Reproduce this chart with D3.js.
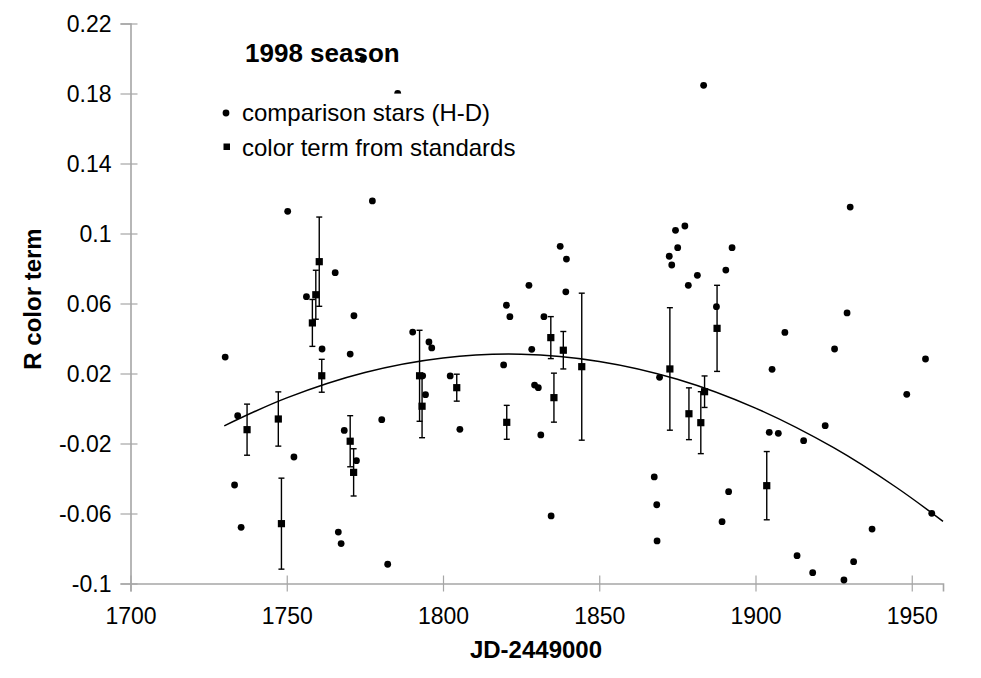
<!DOCTYPE html>
<html>
<head>
<meta charset="utf-8">
<script src="https://cdn.jsdelivr.net/npm/d3@7"></script>
<style>
  body { margin: 0; background: #fff; }
  text { font-family: "Liberation Sans", Arial, Helvetica, sans-serif; fill: #000; }
</style>
</head>
<body>
<div id="container"></div>
<script>
const width = 981;
const height = 678;

// comparison stars (H-D)
const starJD = [1750.3, 1777.4, 1765.5, 1756.3, 1771.5, 1761.3, 1770.3, 1730.3, 1734.3, 1752.3,
    1733.3, 1735.4, 1768.4, 1772.3, 1780.4, 1766.5, 1767.4, 1782.3, 1790.3, 1795.5,
    1796.4, 1819.4, 1820.3, 1821.4, 1827.5, 1828.4, 1832.3, 1837.5, 1839.5, 1839.3,
    1874.4, 1875.1, 1872.4, 1873.2, 1793.5, 1794.4, 1802.3, 1805.4, 1829.3, 1830.5,
    1831.3, 1834.6, 1869.3, 1867.6, 1868.4, 1868.5, 1883.4, 1930.3, 1929.3, 1877.4,
    1878.5, 1881.4, 1892.5, 1890.5, 1887.5, 1909.4, 1925.3, 1954.4, 1905.3, 1948.4,
    1904.4, 1907.3, 1915.4, 1922.3, 1891.4, 1889.3, 1956.4, 1937.3, 1913.3, 1931.4,
    1918.3, 1928.3, 1774.3, 1785.5];
const starTerm = [0.1127, 0.1186, 0.0776, 0.0639, 0.053, 0.034, 0.0311, 0.0294, -0.0041, -0.0277,
    -0.0437, -0.0679, -0.0125, -0.0298, -0.0064, -0.0706, -0.0772, -0.089, 0.0437, 0.038,
    0.0346, 0.0249, 0.059, 0.0525, 0.0704, 0.0338, 0.0525, 0.0927, 0.0854, 0.0667,
    0.1018, 0.0919, 0.087, 0.082, 0.0187, 0.0079, 0.0186, -0.0119, 0.0134, 0.0119,
    -0.0151, -0.0614, 0.0178, -0.0391, -0.055, -0.0757, 0.1847, 0.1151, 0.0546, 0.1043,
    0.0704, 0.0761, 0.0919, 0.0791, 0.0582, 0.0435, 0.034, 0.0283, 0.0224, 0.0081,
    -0.0136, -0.0142, -0.0184, -0.0098, -0.0475, -0.0647, -0.0599, -0.0689, -0.0841, -0.0875,
    -0.0938, -0.098, 0.1995, 0.1801];

// color term from standards, with errors
const stdJD = [1737.3, 1747.3, 1748.3, 1758.2, 1759.3, 1760.4, 1761.2, 1770.3, 1771.4, 1792.5,
    1793.3, 1804.4, 1820.4, 1834.5, 1835.5, 1838.5, 1844.4, 1872.6, 1878.7, 1882.5,
    1883.7, 1887.7, 1903.6];
const stdTerm = [-0.0121, -0.006, -0.0658, 0.0489, 0.065, 0.0839, 0.0187, -0.0187, -0.0365, 0.0187,
    0.0013, 0.0119, -0.0079, 0.0405, 0.0062, 0.0333, 0.0239, 0.0226, -0.003, -0.0081,
    0.0096, 0.0458, -0.0441];
const stdErr = [0.0146, 0.0155, 0.026, 0.0134, 0.014, 0.0255, 0.0094, 0.0146, 0.0135, 0.026,
    0.018, 0.0077, 0.0097, 0.012, 0.014, 0.0107, 0.042, 0.035, 0.0148, 0.0177,
    0.009, 0.0246, 0.0195];

// fitted trend
const fitJD = [1730, 1750, 1775, 1800, 1825, 1850, 1875, 1900, 1925, 1945, 1960];
const fitTerm = [-0.0099, 0.0061, 0.0206, 0.0289, 0.031, 0.0269, 0.0167, 0.0002, -0.0224, -0.045, -0.0645];

const xTicks = [1700, 1750, 1800, 1850, 1900, 1950];
const yTicks = [-0.1, -0.06, -0.02, 0.02, 0.06, 0.1, 0.14, 0.18, 0.22];
const yTickLabels = ["-0.1", "-0.06", "-0.02", "0.02", "0.06", "0.1", "0.14", "0.18", "0.22"];
const legendLabels = ["comparison stars (H-D)", "color term from standards"];

const x = d3.scaleLinear().domain([1700, 1960]).range([130.5, 943]);
const y = d3.scaleLinear().domain([-0.1, 0.22]).range([583.5, 23.5]);

const svg = d3.select("#container")
    .append("svg")
    .attr("width", width)
    .attr("height", height);

// axes
const xAxis = svg.append("g")
    .attr("transform", `translate(0,${y(-0.1)})`)
    .call(d3.axisBottom(x).tickValues(xTicks).tickFormat(d3.format("d"))
        .tickSizeOuter(0).tickSize(8).tickPadding(16));
const yAxis = svg.append("g")
    .attr("transform", `translate(${x(1700)},0)`)
    .call(d3.axisLeft(y).tickValues(yTicks).tickFormat((d, i) => yTickLabels[i])
        .tickSizeOuter(0).tickSize(10).tickPadding(9));
[xAxis, yAxis].forEach((g) => {
    g.select(".domain").attr("stroke", "#a6a6a6").attr("stroke-width", 1.6);
    g.selectAll(".tick line").attr("stroke", "#a6a6a6").attr("stroke-width", 1.2);
    g.selectAll(".tick text").style("font-size", "23px").attr("fill", "#000");
});
xAxis.selectAll(".tick line").attr("y1", -8);
yAxis.selectAll(".tick line").attr("x1", 7);
yAxis.selectAll(".tick text").attr("dy", "0.36em");

svg.append("text")
    .attr("x", 536)
    .attr("y", 658)
    .attr("text-anchor", "middle")
    .style("font-size", "24px")
    .style("font-weight", "bold")
    .text("JD-2449000");
svg.append("text")
    .attr("transform", "translate(41,299) rotate(-90)")
    .attr("text-anchor", "middle")
    .style("font-size", "24px")
    .style("font-weight", "bold")
    .text("R color term");

svg.append("text")
    .attr("x", 245)
    .attr("y", 62)
    .style("font-size", "26px")
    .style("font-weight", "bold")
    .text("1998 season");

// fitted curve
const line = d3.line()
    .x((d, i) => x(fitJD[i]))
    .y((d) => y(d))
    .curve(d3.curveCatmullRom);
svg.append("path")
    .attr("d", line(fitTerm))
    .attr("fill", "none")
    .attr("stroke", "#000")
    .attr("stroke-width", 1.5);

// error bars
const bars = svg.append("g")
    .attr("stroke", "#000")
    .attr("stroke-width", 1.4);
stdTerm.forEach((v, i) => {
    const cx = x(stdJD[i]);
    const top = y(v + stdErr[i]);
    const bot = y(v - stdErr[i]);
    bars.append("line").attr("x1", cx).attr("x2", cx).attr("y1", top).attr("y2", bot);
    bars.append("line").attr("x1", cx - 3).attr("x2", cx + 3).attr("y1", top).attr("y2", top);
    bars.append("line").attr("x1", cx - 3).attr("x2", cx + 3).attr("y1", bot).attr("y2", bot);
});

svg.append("g")
    .selectAll("circle")
    .data(starTerm)
    .enter()
    .append("circle")
    .attr("cx", (d, i) => x(starJD[i]))
    .attr("cy", (d) => y(d))
    .attr("r", 3.4)
    .attr("fill", "#000");

svg.append("g")
    .selectAll("rect")
    .data(stdTerm)
    .enter()
    .append("rect")
    .attr("x", (d, i) => x(stdJD[i]) - 3.6)
    .attr("y", (d) => y(d) - 3.6)
    .attr("width", 7.2)
    .attr("height", 7.2)
    .attr("fill", "#000");

// legend (white box sits on top of the points)
const legend = svg.append("g");
legend.append("rect")
    .attr("x", 215)
    .attr("y", 93.6)
    .attr("width", 295)
    .attr("height", 72)
    .attr("fill", "#fff");
legend.append("circle")
    .attr("cx", 226)
    .attr("cy", 113)
    .attr("r", 3.4)
    .attr("fill", "#000");
legend.append("rect")
    .attr("x", 223.5)
    .attr("y", 143.5)
    .attr("width", 6.5)
    .attr("height", 6.5)
    .attr("fill", "#000");
legend.selectAll("text")
    .data(legendLabels)
    .enter()
    .append("text")
    .attr("x", 242)
    .attr("y", (d, i) => 121 + i * 35)
    .style("font-size", "24px")
    .text((d) => d);
</script>
</body>
</html>
